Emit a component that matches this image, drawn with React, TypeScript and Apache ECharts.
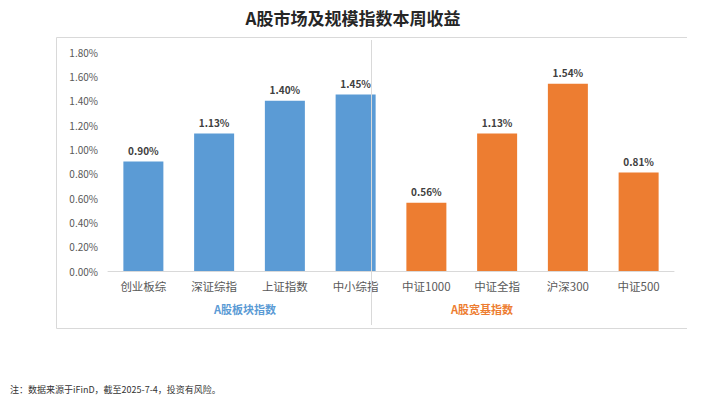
import React, { useEffect, useRef } from "react";
import * as echarts from "echarts";

const categories = ["创业板综", "深证综指", "上证指数", "中小综指", "中证1000", "中证全指", "沪深300", "中证500"];
const sectorValues = [0.9, 1.13, 1.4, 1.45, null, null, null, null];
const broadValues = [null, null, null, null, 0.56, 1.13, 1.54, 0.81];
const groupLabels = ["A股板块指数", "A股宽基指数"];
const titleText = "A股市场及规模指数本周收益";
const noteText = "注：数据来源于iFinD，截至2025-7-4，投资有风险。";

const BLUE = "#5B9BD5";
const ORANGE = "#ED7D31";
const FONT = "'Noto Sans CJK SC', 'Noto Sans', sans-serif";

export default function App() {
  const ref = useRef<HTMLDivElement>(null);
  useEffect(() => {
    if (!ref.current) return;
    const chart = echarts.init(ref.current, null, { renderer: "svg" });
    const labelCfg = {
      show: true,
      position: "top" as const,
      distance: 6,
      formatter: (p: any) => (p.value == null ? "" : p.value.toFixed(2) + "%"),
      fontSize: 10,
      fontWeight: "bold" as const,
      color: "#404040",
      fontFamily: FONT,
    };
    chart.setOption({
      animation: false,
      backgroundColor: "#fff",
      title: {
        text: titleText,
        left: "center",
        top: 4,
        textStyle: { fontSize: 17, fontWeight: "bold", color: "#262626", fontFamily: FONT },
      },
      grid: { left: 108, right: 32, top: 52, bottom: 128 },
      xAxis: {
        type: "category",
        data: categories,
        axisLine: { lineStyle: { color: "#D9D9D9" } },
        axisTick: { show: false },
        axisLabel: { color: "#595959", fontSize: 11.5, margin: 9, fontFamily: FONT },
      },
      yAxis: {
        type: "value",
        min: 0,
        max: 1.8,
        interval: 0.2,
        splitLine: { show: false },
        axisLine: { show: false },
        axisTick: { show: false },
        axisLabel: {
          color: "#595959",
          fontSize: 10,
          margin: 10,
          fontFamily: FONT,
          formatter: (v: number) => v.toFixed(2) + "%",
        },
      },
      series: [
        {
          type: "bar",
          data: sectorValues,
          barWidth: 40,
          stack: "s",
          itemStyle: { color: BLUE },
          label: labelCfg,
        },
        {
          type: "bar",
          data: broadValues,
          barWidth: 40,
          stack: "s",
          itemStyle: { color: ORANGE },
          label: labelCfg,
        },
      ],
      graphic: [
        {
          type: "polyline",
          shape: { points: [[687, 37.5], [56.5, 37.5], [56.5, 328.5], [687, 328.5]] },
          style: { stroke: "#D9D9D9", fill: null, lineWidth: 1 },
          silent: true,
        },
        {
          type: "line",
          shape: { x1: 371.5, y1: 40, x2: 371.5, y2: 325 },
          style: { stroke: "#D9D9D9", lineWidth: 1 },
          silent: true,
          z: 100,
        },
        {
          type: "text",
          x: 245,
          y: 309,
          style: {
            text: groupLabels[0],
            fill: BLUE,
            fontSize: 11,
            fontWeight: "bold",
            fontFamily: FONT,
            align: "center",
            verticalAlign: "middle",
          },
        },
        {
          type: "text",
          x: 482,
          y: 309,
          style: {
            text: groupLabels[1],
            fill: ORANGE,
            fontSize: 11,
            fontWeight: "bold",
            fontFamily: FONT,
            align: "center",
            verticalAlign: "middle",
          },
        },
        {
          type: "text",
          x: 10,
          y: 389,
          style: {
            text: noteText,
            fill: "#333",
            fontSize: 9,
            fontFamily: FONT,
            align: "left",
            verticalAlign: "middle",
          },
        },
      ],
    });
    return () => chart.dispose();
  }, []);
  return <div ref={ref} style={{ width: 706, height: 399, position: "absolute", left: 0, top: 0 }} />;
}
